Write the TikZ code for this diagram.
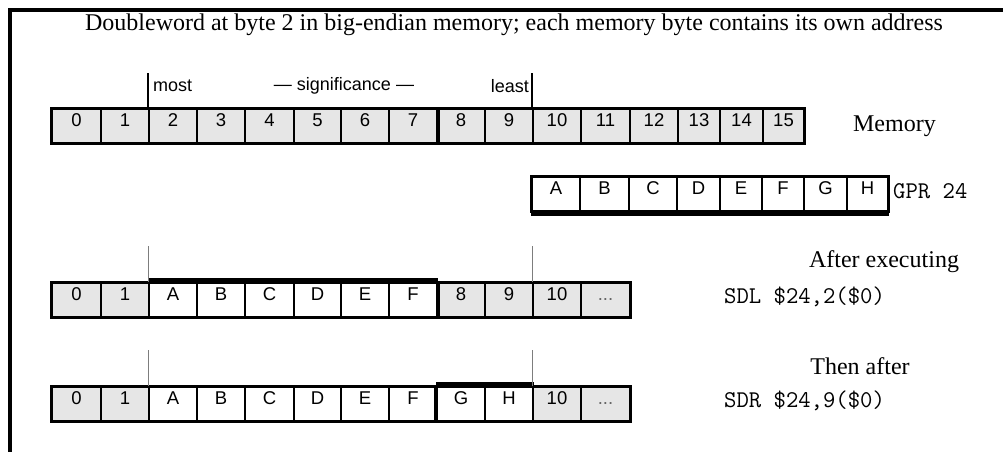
\documentclass[tikz,border=0pt]{standalone}
\usepackage{fontspec}
\setmainfont{Liberation Serif}
\setsansfont{Liberation Sans}
\usetikzlibrary{positioning}
\definecolor{memgray}{RGB}{230,230,230}
\definecolor{tickgray}{RGB}{125,125,125}

\begin{document}
\begin{tikzpicture}[
    x=1pt, y=-1pt,
    cell/.style={rectangle, draw=black, line width=1.8pt, inner sep=0pt, minimum height=34pt, text height=13pt, text depth=12pt, font=\sffamily\fontsize{18.5}{20}\selectfont},
    memcell/.style={cell, fill=memgray},
    regcell/.style={cell, fill=white},
    rowframe/.style={draw=black, line width=2.8pt},
    bold/.style={draw=black, line width=4.5pt},
    tick/.style={draw=black, line width=1.6pt},
    greytick/.style={draw=tickgray, line width=1.2pt},
    sig/.style={font=\sffamily\fontsize{18}{20}\selectfont, inner sep=0pt},
    caption/.style={font=\fontsize{24}{26}\selectfont, inner sep=0pt},
    instr/.style={font=\ttfamily\fontsize{24}{26}\selectfont, inner sep=0pt}
]
\useasboundingbox (0,0) rectangle (1003,452);

% frame
\draw[line width=3.5pt] (10,452) -- (10,10) -- (1003,10);

\node[caption] (title) at (514,25) {Doubleword at byte 2 in big-endian memory; each memory byte contains its own address};

% memory
\foreach \l/\r [count=\i from 0] in {52/101,101/149,149/197,197/245,245/294,294/341,341/389,389/437,437/485,485/533,533/581,581/630,630/678,678/720,720/763,763/804}
  \node[memcell, minimum width={\r-\l}] (mem\i) at ({(\l+\r)/2},126) {\i};
\draw[rowframe] (mem0.north west) rectangle (mem15.south east);
\draw[bold] (mem7.north east) -- (mem7.south east);
\draw[tick] (mem2.north west) -- ++(0,-35);
\draw[tick] (mem10.north west) -- ++(0,-35);
\node[sig, anchor=west] (most) at (153,86) {most};
\node[sig] (significance) at (344,86) {--- significance ---};
\node[sig, anchor=east] (least) at (529,86) {least};
\node[caption, right=48pt of mem15] (memory) {Memory};

% register
\foreach \l/\r/\t [count=\i] in {532/580/A,580/629/B,629/677/C,677/720/D,720/762/E,762/804/F,804/847/G,847/888/H}
  \node[regcell, minimum width={\r-\l}] (gpr\i) at ({(\l+\r)/2},194) {\t};
\draw[rowframe] (gpr1.north west) rectangle (gpr8.south east);
\draw[bold] ([yshift=-1.5pt]gpr1.south west) -- ([yshift=-1.5pt]gpr8.south east);
\node[instr, anchor=west] (gpr) at (893,191) {GPR 24};

% after SDL
\foreach \l/\r/\t/\s [count=\i from 0] in {52/101/0/memcell,101/149/1/memcell,149/197/A/regcell,197/245/B/regcell,245/294/C/regcell,294/341/D/regcell,341/389/E/regcell,389/437/F/regcell,437/485/8/memcell,485/533/9/memcell,533/581/10/memcell,581/630/{\textcolor{black!60}{...}}/memcell}
  \node[\s, minimum width={\r-\l}] (sdl\i) at ({(\l+\r)/2},300) {\t};
\draw[rowframe] (sdl0.north west) rectangle (sdl11.south east);
\draw[bold] ([yshift=1.5pt]sdl2.north west) -- ([yshift=1.5pt]sdl7.north east);
\draw[bold] (sdl7.north east) -- (sdl7.south east);
\draw[greytick] (sdl2.north west) -- ++(0,-36);
\draw[greytick] (sdl10.north west) -- ++(0,-36);
\node[caption] (after) at (884,262) {After executing};
\node[instr, anchor=west] (sdl) at (724,297) {SDL \$24,2(\$0)};

% after SDR
\foreach \l/\r/\t/\s [count=\i from 0] in {52/101/0/memcell,101/149/1/memcell,149/197/A/regcell,197/245/B/regcell,245/294/C/regcell,294/341/D/regcell,341/389/E/regcell,389/437/F/regcell,437/485/G/regcell,485/533/H/regcell,533/581/10/memcell,581/630/{\textcolor{black!60}{...}}/memcell}
  \node[\s, minimum width={\r-\l}] (sdr\i) at ({(\l+\r)/2},404) {\t};
\draw[rowframe] (sdr0.north west) rectangle (sdr11.south east);
\draw[bold] ([yshift=1.5pt]sdr8.north west) -- ([yshift=1.5pt]sdr9.north east);
\draw[bold] (sdr8.north west) -- (sdr8.south west);
\draw[greytick] (sdr2.north west) -- ++(0,-36);
\draw[greytick] (sdr10.north west) -- ++(0,-36);
\node[caption] (then) at (860,366) {Then after};
\node[instr, anchor=west] (sdr) at (724,401) {SDR \$24,9(\$0)};

\end{tikzpicture}
\end{document}
